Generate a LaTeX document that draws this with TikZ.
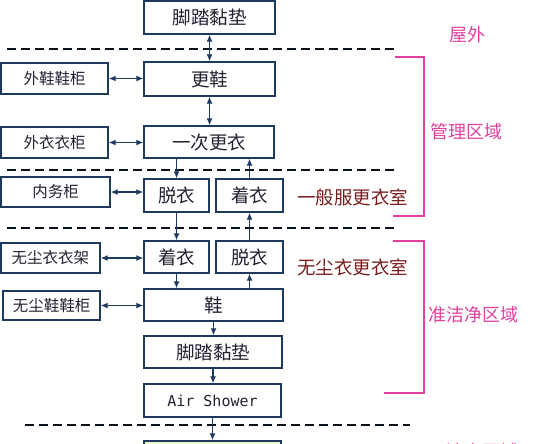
\documentclass[tikz,border=0pt]{standalone}
\usepackage{fontspec}
\setmainfont{Noto Sans CJK SC}
\newfontfamily\monof{DejaVu Sans Mono}
\usetikzlibrary{arrows.meta}
\definecolor{navy}{HTML}{1F3A5F}
\definecolor{zone}{HTML}{E040A0}
\definecolor{room}{HTML}{7A1C1C}
\definecolor{cleanfill}{HTML}{F3F7CF}
\definecolor{inktext}{HTML}{222233}
\begin{document}
\begin{tikzpicture}[x=1pt,y=-1pt,
 box/.style={draw=navy, line width=1.4pt, fill=white, inner sep=0pt, text=inktext, font=\fontsize{18.5}{20}\selectfont},
 side/.style={box, font=\fontsize{15.5}{17}\selectfont},
 link/.style={draw=navy, line width=1.2pt, -{Latex[length=7pt,width=6pt]}},
 both/.style={draw=navy, line width=1.2pt, {Latex[length=7pt,width=6pt]}-{Latex[length=7pt,width=6pt]}},
 sep/.style={draw=black!70!navy, line width=1.2pt, dash pattern=on 9pt off 5pt},
 zonebr/.style={draw=zone, line width=1.2pt},
 zonelab/.style={text=zone, inner sep=0pt, font=\fontsize{18}{20}\selectfont},
 roomlab/.style={text=room, inner sep=0pt, font=\fontsize{18.5}{20}\selectfont}]
\useasboundingbox (0,0) rectangle (546,444);

% separators
\coordinate (d1a) at (7,49);   \coordinate (d1b) at (395,49);
\coordinate (d2a) at (7,170);  \coordinate (d2b) at (395,170);
\coordinate (d3a) at (7,228);  \coordinate (d3b) at (395,228);
\coordinate (d4a) at (25,425); \coordinate (d4b) at (410,425);
\draw[sep] (d1a) -- (d1b);
\draw[sep] (d2a) -- (d2b);
\draw[sep] (d3a) -- (d3b);
\draw[sep] (d4a) -- (d4b);

% zone brackets
\coordinate (b1a) at (395,57);  \coordinate (b1b) at (424,57);
\coordinate (b1c) at (424,216); \coordinate (b1d) at (393,216);
\draw[zonebr] (b1a) -- (b1b) -- (b1c) -- (b1d);
\coordinate (b2a) at (393,241); \coordinate (b2b) at (424,241);
\coordinate (b2c) at (424,393); \coordinate (b2d) at (384,393);
\draw[zonebr] (b2a) -- (b2b) -- (b2c) -- (b2d);

% main column
\node[box, minimum width=131, minimum height=33] (mat1) at (209.5,17.5) {脚踏黏垫};
\node[box, minimum width=131, minimum height=34] (gx) at (209.5,79) {更鞋};
\node[box, minimum width=130, minimum height=32] (yc) at (209,142) {一次更衣};
\node[box, minimum width=65, minimum height=33] (tuo1) at (176.5,195.5) {脱衣};
\node[box, minimum width=67, minimum height=33] (zhuo1) at (249.5,195.5) {着衣};
\node[box, minimum width=65, minimum height=32] (zhuo2) at (176.5,257) {着衣};
\node[box, minimum width=67, minimum height=32] (tuo2) at (249.5,257) {脱衣};
\node[box, minimum width=139, minimum height=32] (xie) at (213.5,305) {鞋};
\node[box, minimum width=138, minimum height=32] (mat2) at (213,352) {脚踏黏垫};
\node[box, minimum width=137, minimum height=33, font=\monof\fontsize{15}{17}\selectfont] (air) at (212.5,400.5) {Air Shower};
\node[box, fill=cleanfill, minimum width=137, minimum height=34] (clean) at (212.5,458) {};

% side storage
\node[side, minimum width=107, minimum height=31] (wx) at (54.5,78.5) {外鞋鞋柜};
\node[side, minimum width=107, minimum height=31] (wy) at (54.5,142.5) {外衣衣柜};
\node[side, minimum width=109, minimum height=30] (nw) at (55.5,192) {内务柜};
\node[side, minimum width=99, minimum height=30] (wcy) at (50.5,258) {无尘衣衣架};
\node[side, minimum width=97, minimum height=29] (wcx) at (51.5,305.5) {无尘鞋鞋柜};

% labels
\node[zonelab] (lab1) at (467,35) {屋外};
\node[zonelab] (lab2) at (466,132) {管理区域};
\node[roomlab] (r1) at (352.5,197) {一般服更衣室};
\node[roomlab] (r2) at (352.5,267) {无尘衣更衣室};
\node[zonelab] (lab3) at (473,315) {准洁净区域};
\node[zonelab] (lab4) at (482,452) {洁净区域};

% connectors
\draw[both] (mat1.south) -- (gx.north);
\draw[both] (wx.east) -- (wx.east -| gx.west);
\draw[both] (gx.south) -- (gx.south |- yc.north);
\draw[both] (wy.east) -- (wy.east -| yc.west);
\draw[link] (tuo1.north |- yc.south) -- (tuo1.north);
\draw[link] (zhuo1.north) -- (zhuo1.north |- yc.south);
\draw[both] (nw.east) -- (nw.east -| tuo1.west);
\draw[link] (tuo1.south) -- (zhuo2.north);
\draw[link] (tuo2.north) -- (zhuo1.south);
\draw[both] (wcy.east) -- (wcy.east -| zhuo2.west);
\draw[link] (zhuo2.south) -- (zhuo2.south |- xie.north);
\draw[link] (tuo2.south |- xie.north) -- (tuo2.south);
\draw[both] (wcx.east) -- (wcx.east -| xie.west);
\draw[link] (xie.south) -- (xie.south |- mat2.north);
\draw[link] (mat2.south) -- (mat2.south |- air.north);
\draw[link] (air.south) -- (air.south |- clean.north);
\end{tikzpicture}
\end{document}
